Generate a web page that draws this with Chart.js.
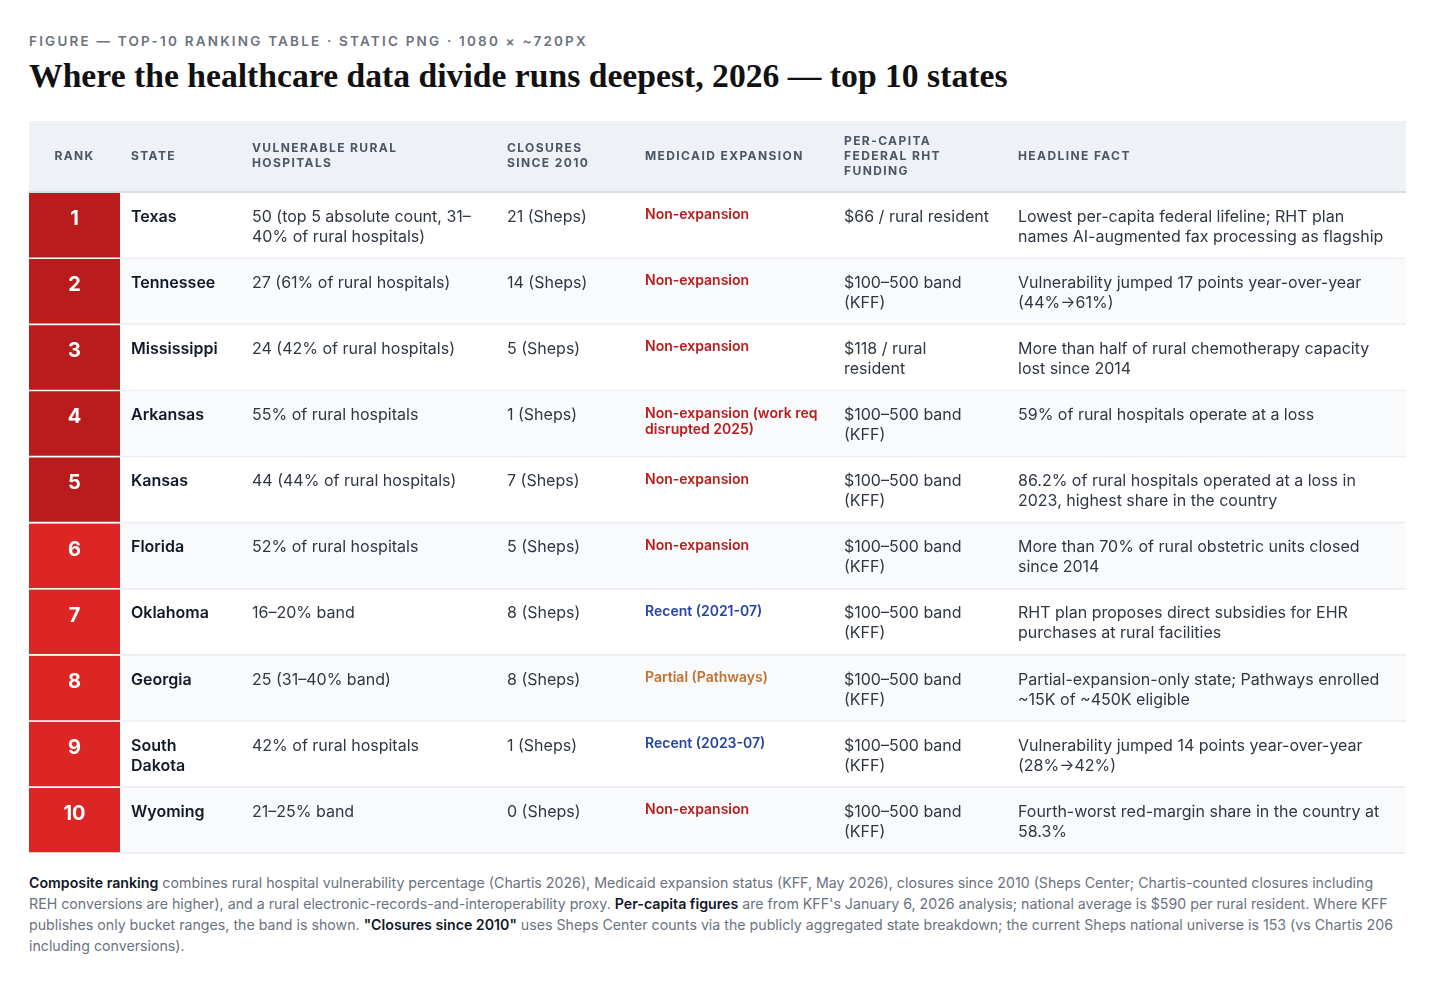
<!DOCTYPE html>
<html lang="en">
<head>
  <meta charset="UTF-8" />
  <title>Where the healthcare data divide runs deepest, 2026</title>
  <script src="https://cdn.jsdelivr.net/npm/chart.js"></script>
  <style>
    * { box-sizing: border-box; margin: 0; padding: 0; }

    body {
      width: 1440px;
      height: 992px;
      background: #ffffff;
      font-family: 'Inter', sans-serif;
      position: relative;
      overflow: hidden;
    }

    #kicker {
      position: absolute;
      left: 29px;
      top: 33px;
      font-size: 13.5px;
      font-weight: 600;
      letter-spacing: 2.2px;
      color: #6b7280;
      white-space: nowrap;
    }

    h1 {
      position: absolute;
      left: 29px;
      top: 58px;
      font-family: 'Liberation Serif', serif;
      font-weight: 700;
      font-size: 30px;
      line-height: 36px;
      color: #111111;
      white-space: nowrap;
    }

    #tableWrap {
      position: absolute;
      left: 29px;
      top: 121px;
      width: 1377px;
      height: 733px;
    }

    #note {
      position: absolute;
      left: 29px;
      top: 872px;
      font-size: 14.2px;
      line-height: 21px;
      color: #6b7280;
      white-space: nowrap;
    }

    #note b { color: #111827; font-weight: 600; }
  </style>
</head>
<body>
  <div id="kicker">FIGURE — TOP-10 RANKING TABLE · STATIC PNG · 1080 × ~720PX</div>
  <h1 id="title">Where the healthcare data divide runs deepest, 2026 — top 10 states</h1>

  <div id="tableWrap">
    <canvas id="rankTable"></canvas>
  </div>

  <div id="note">
    <b>Composite ranking</b> combines rural hospital vulnerability percentage (Chartis 2026), Medicaid expansion status (KFF, May 2026), closures since 2010 (Sheps Center; Chartis-counted closures including<br>
    REH conversions are higher), and a rural electronic-records-and-interoperability proxy. <b>Per-capita figures</b> are from KFF's January 6, 2026 analysis; national average is $590 per rural resident. Where KFF<br>
    publishes only bucket ranges, the band is shown. <b>"Closures since 2010"</b> uses Sheps Center counts via the publicly aggregated state breakdown; the current Sheps national universe is 153 (vs Chartis 206<br>
    including conversions).
  </div>

  <script>
    // table data
    const headers = ['RANK', 'STATE', 'VULNERABLE RURAL\nHOSPITALS', 'CLOSURES\nSINCE 2010',
      'MEDICAID EXPANSION', 'PER-CAPITA\nFEDERAL RHT\nFUNDING', 'HEADLINE FACT'];

    const ranks = [1, 2, 3, 4, 5, 6, 7, 8, 9, 10];

    const states = ['Texas', 'Tennessee', 'Mississippi', 'Arkansas', 'Kansas',
      'Florida', 'Oklahoma', 'Georgia', 'South\nDakota', 'Wyoming'];

    const vulnerable = [
      '50 (top 5 absolute count, 31–\n40% of rural hospitals)',
      '27 (61% of rural hospitals)',
      '24 (42% of rural hospitals)',
      '55% of rural hospitals',
      '44 (44% of rural hospitals)',
      '52% of rural hospitals',
      '16–20% band',
      '25 (31–40% band)',
      '42% of rural hospitals',
      '21–25% band'
    ];

    const closures = ['21 (Sheps)', '14 (Sheps)', '5 (Sheps)', '1 (Sheps)', '7 (Sheps)',
      '5 (Sheps)', '8 (Sheps)', '8 (Sheps)', '1 (Sheps)', '0 (Sheps)'];

    const medicaid = ['Non-expansion', 'Non-expansion', 'Non-expansion',
      'Non-expansion (work req\ndisrupted 2025)', 'Non-expansion', 'Non-expansion',
      'Recent (2021-07)', 'Partial (Pathways)', 'Recent (2023-07)', 'Non-expansion'];

    const funding = ['$66 / rural resident', '$100–500 band\n(KFF)', '$118 / rural\nresident',
      '$100–500 band\n(KFF)', '$100–500 band\n(KFF)', '$100–500 band\n(KFF)',
      '$100–500 band\n(KFF)', '$100–500 band\n(KFF)', '$100–500 band\n(KFF)', '$100–500 band\n(KFF)'];

    const headline = [
      'Lowest per-capita federal lifeline; RHT plan\nnames AI-augmented fax processing as flagship',
      'Vulnerability jumped 17 points year-over-year\n(44%→61%)',
      'More than half of rural chemotherapy capacity\nlost since 2014',
      '59% of rural hospitals operate at a loss',
      '86.2% of rural hospitals operated at a loss in\n2023, highest share in the country',
      'More than 70% of rural obstetric units closed\nsince 2014',
      'RHT plan proposes direct subsidies for EHR\npurchases at rural facilities',
      'Partial-expansion-only state; Pathways enrolled\n~15K of ~450K eligible',
      'Vulnerability jumped 14 points year-over-year\n(28%→42%)',
      'Fourth-worst red-margin share in the country at\n58.3%'
    ];

    // layout (table px units)
    const TABLE_W = 1377;
    const HEADER_H = 72;
    const RANK_W = 91;
    const COL_X = [0, 102, 223, 478, 616, 815, 989];

    const medicaidColor = t =>
      t.startsWith('Recent') ? '#2544a3' : t.startsWith('Partial') ? '#c4712f' : '#b91c1c';

    function drawLines(ctx, text, x, y, lh) {
      text.split('\n').forEach((ln, k) => ctx.fillText(ln, x, y + k * lh));
    }

    const tablePlugin = {
      id: 'tablePlugin',
      beforeDatasetsDraw(chart) {
        const { ctx, chartArea, scales: { x } } = chart;
        ctx.save();
        ctx.fillStyle = '#eef1f5';
        ctx.fillRect(chartArea.left, chartArea.top - HEADER_H, chartArea.width, HEADER_H);
        ctx.fillStyle = '#d8dce3';
        ctx.fillRect(chartArea.left, chartArea.top - 2, chartArea.width, 2);

        ctx.font = '700 12px Inter';
        ctx.letterSpacing = '1.4px';
        ctx.fillStyle = '#4b5563';
        ctx.textBaseline = 'middle';
        const mid = chartArea.top - HEADER_H / 2 - 1;
        headers.forEach((h, c) => {
          const lines = h.split('\n');
          const hx = c === 0 ? x.getPixelForValue(RANK_W / 2) : x.getPixelForValue(COL_X[c]);
          ctx.textAlign = c === 0 ? 'center' : 'left';
          lines.forEach((ln, k) => ctx.fillText(ln, hx, mid + (k - (lines.length - 1) / 2) * 15));
        });
        ctx.restore();
      },
      afterDatasetsDraw(chart) {
        const { ctx, scales: { x, y } } = chart;
        const band = Math.abs(y.getPixelForValue(1) - y.getPixelForValue(0));
        const rankMeta = chart.getDatasetMeta(1);
        ctx.save();
        ctx.textBaseline = 'middle';
        ranks.forEach((r, i) => {
          const top = y.getPixelForValue(i) - band / 2;

          ctx.textAlign = 'center';
          ctx.font = '700 20px Inter';
          ctx.fillStyle = '#ffffff';
          ctx.fillText(String(r), rankMeta.data[i].getCenterPoint().x, top + 26);

          ctx.textAlign = 'left';
          ctx.font = '600 16px Inter';
          ctx.fillStyle = '#111827';
          drawLines(ctx, states[i], x.getPixelForValue(COL_X[1]), top + 24, 20);

          ctx.font = '400 16px Inter';
          ctx.fillStyle = '#303642';
          drawLines(ctx, vulnerable[i], x.getPixelForValue(COL_X[2]), top + 24, 20);
          drawLines(ctx, closures[i], x.getPixelForValue(COL_X[3]), top + 24, 20);
          drawLines(ctx, funding[i], x.getPixelForValue(COL_X[5]), top + 24, 20);
          drawLines(ctx, headline[i], x.getPixelForValue(COL_X[6]), top + 24, 20);

          ctx.font = '600 14px Inter';
          ctx.fillStyle = medicaidColor(medicaid[i]);
          drawLines(ctx, medicaid[i], x.getPixelForValue(COL_X[4]), top + 22, 16);
        });
        ctx.restore();
      }
    };

    const ctx = document.getElementById('rankTable').getContext('2d');
    const rankTable = new Chart(ctx, {
      type: 'bar',
      data: {
        labels: states,
        datasets: [
          {
            label: 'rows',
            data: ranks.map(() => [RANK_W, TABLE_W]),
            backgroundColor: ranks.map((r, i) => i % 2 ? '#f9fafb' : '#ffffff'),
            borderColor: '#eceef2',
            borderWidth: { top: 0, right: 0, bottom: 2, left: 0 },
            borderSkipped: false
          },
          {
            label: 'rank',
            data: ranks.map(() => [0, RANK_W]),
            backgroundColor: ranks.map(r => r <= 5 ? '#b91c1c' : '#dc2626'),
            borderColor: 'rgba(255, 255, 255, 0.6)',
            borderWidth: { top: 0, right: 0, bottom: 2, left: 0 },
            borderSkipped: false
          }
        ]
      },
      options: {
        indexAxis: 'y',
        responsive: true,
        maintainAspectRatio: false,
        animation: false,
        events: [],
        grouped: false,
        categoryPercentage: 1,
        barPercentage: 1,
        layout: { padding: { top: HEADER_H, left: 0, right: 0, bottom: 0 } },
        plugins: { legend: { display: false }, tooltip: { enabled: false } },
        scales: {
          x: { type: 'linear', min: 0, max: TABLE_W, display: false },
          y: { type: 'category', display: false, offset: true }
        }
      },
      plugins: [tablePlugin]
    });

    // fit the serif title to the reference width
    const title = document.getElementById('title');
    const w = title.getBoundingClientRect().width;
    title.style.fontSize = (30 * 979 / w).toFixed(2) + 'px';
  </script>
</body>
</html>
